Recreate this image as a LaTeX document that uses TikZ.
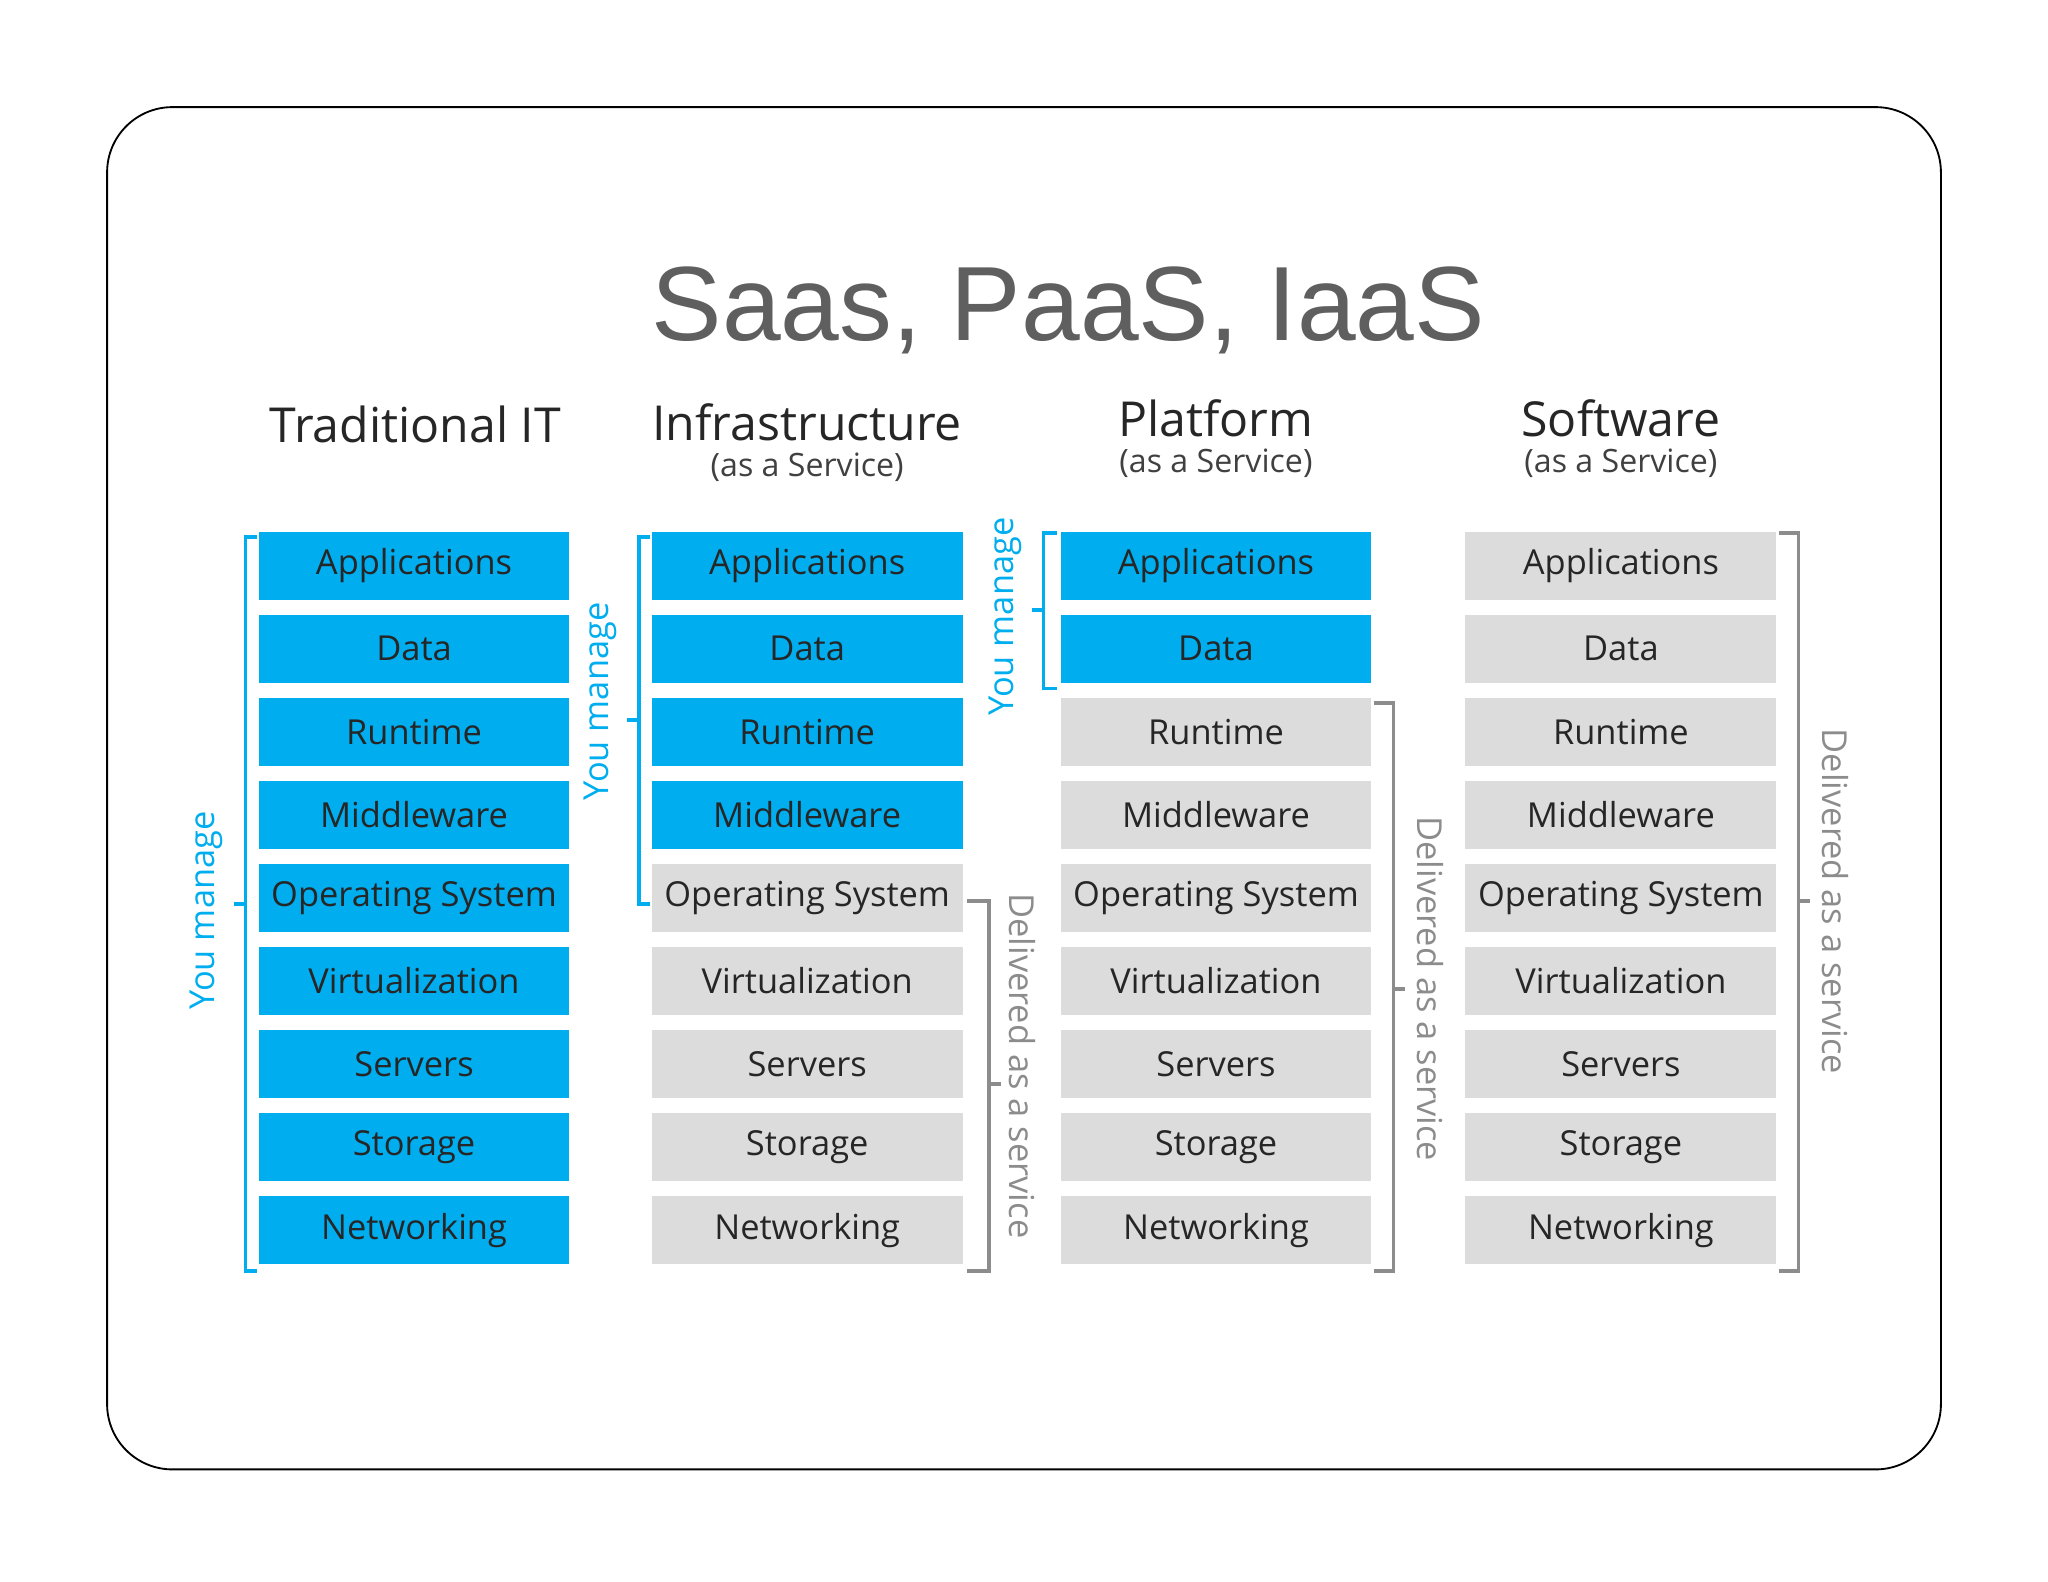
\documentclass[tikz,border=0pt]{standalone}
\usepackage{fontspec}
\setmainfont{Open Sans}
\newfontfamily\titlefont{Liberation Sans}
\definecolor{azb}{HTML}{00AEEF}
\definecolor{gbx}{HTML}{DCDCDC}
\definecolor{gbr}{HTML}{8C8C8C}
\definecolor{ttl}{HTML}{5F5F5F}
\begin{document}
\begin{tikzpicture}[x=0.02cm,y=-0.02cm,
  bluebox/.style={fill=azb,minimum width=238*0.02cm,minimum height=52*0.02cm,inner sep=0pt,font=\fontsize{15}{15}\selectfont,text=black!85},
  graybox/.style={bluebox,fill=gbx},
  bbr/.style={azb,line width=1.6pt},
  gbrs/.style={gbr,line width=1.6pt},
  blab/.style={text=azb,font=\fontsize{15}{15}\selectfont},
  glab/.style={text=gbr,font=\fontsize{15}{15}\selectfont},
  head/.style={font=\fontsize{21}{21}\selectfont,text=black!85},
  sub/.style={font=\fontsize{14}{14}\selectfont,text=black!75}]
\useasboundingbox (0,0) rectangle (1568,1211);
\fill[white] (0,0) rectangle (1568,1211);
\draw[black,line width=0.8pt,rounded corners=50*0.02cm] (82,82) rectangle (1486,1125);
\node[text=ttl,font=\titlefont\fontsize{46}{46}\selectfont] (title) at (818,238) {Saas, PaaS, IaaS};
\node[head] (h1) at (318,325) {Traditional IT};
\node[head] (h2) at (618,323) {Infrastructure};
\node[sub] (s2) at (618,358) {(as a Service)};
\node[head] (h3) at (931,320) {Platform};
\node[sub] (s3) at (931,355) {(as a Service)};
\node[head] (h4) at (1241,320) {Software};
\node[sub] (s4) at (1241,355) {(as a Service)};
\foreach \t [count=\i] in {Applications,Data,Runtime,Middleware,Operating System,Virtualization,Servers,Storage,Networking}{
  \pgfmathsetmacro{\yy}{433+(\i-1)*63.6}
  \node[bluebox] (a\i) at (317,\yy) {\t};
  \ifnum\i<5 \node[bluebox] (b\i) at (618,\yy) {\t};\else\node[graybox] (b\i) at (618,\yy) {\t};\fi
  \ifnum\i<3 \node[bluebox] (c\i) at (931,\yy) {\t};\else\node[graybox] (c\i) at (931,\yy) {\t};\fi
  \node[graybox] (d\i) at (1241,\yy) {\t};
}
% Traditional IT
\draw[bbr] (197,411) -- (188,411) -- (188,973) -- (197,973);
\draw[bbr] (188,692) -- (179,692);
\node[blab,rotate=90] (l1) at (158,697) {You manage};
% IaaS
\draw[bbr] (498,411) -- (489,411) -- (489,692) -- (498,692);
\draw[bbr] (489,551) -- (480,551);
\node[blab,rotate=90] (l2) at (460,537) {You manage};
\draw[gbrs] (740,690) -- (757,690) -- (757,973) -- (740,973);
\draw[gbrs] (757,830) -- (766,830);
\node[glab,rotate=-90] (l3) at (783,816) {Delivered as a service};
% PaaS
\draw[bbr] (809,408) -- (799,408) -- (799,527) -- (809,527);
\draw[bbr] (799,467) -- (790,467);
\node[blab,rotate=90] (l4) at (770,472) {You manage};
\draw[gbrs] (1052,538) -- (1067,538) -- (1067,973) -- (1052,973);
\draw[gbrs] (1067,757) -- (1076,757);
\node[glab,rotate=-90] (l5) at (1095,757) {Delivered as a service};
% SaaS
\draw[gbrs] (1362,408) -- (1377,408) -- (1377,973) -- (1362,973);
\draw[gbrs] (1377,690) -- (1386,690);
\node[glab,rotate=-90] (l6) at (1405,690) {Delivered as a service};
\end{tikzpicture}
\end{document}
